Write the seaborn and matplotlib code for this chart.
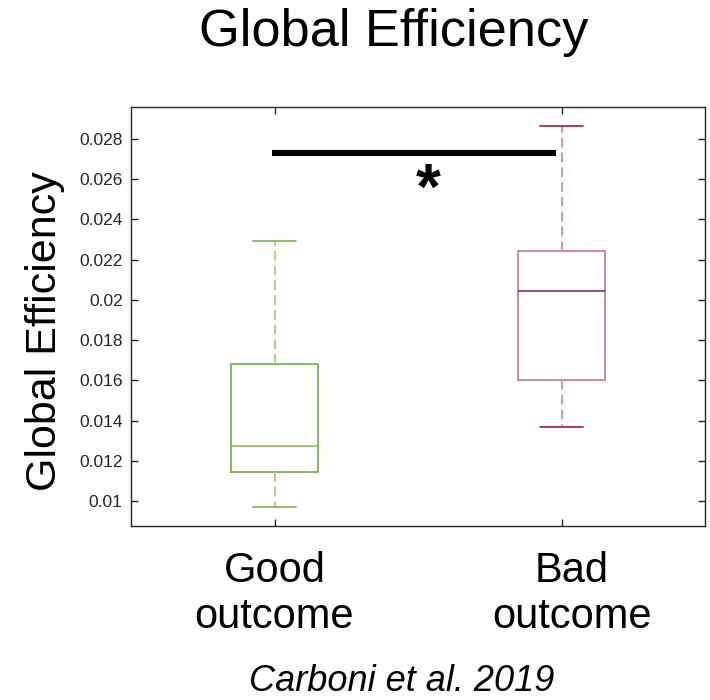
import numpy as np
import pandas as pd
import matplotlib
matplotlib.use("Agg")
import matplotlib.pyplot as plt
import matplotlib.transforms as mtransforms
import seaborn as sns

# Five-number summaries (min, Q1, median, Q3, max) for each outcome group
groups = ["Good", "Bad"]
tick_labels = ["Good\noutcome", "Bad\noutcome"]
good_values = [0.0097, 0.01147, 0.01275, 0.01680, 0.02295]
bad_values = [0.01370, 0.01604, 0.02043, 0.02242, 0.02863]

y_ticks = [0.010, 0.012, 0.014, 0.016, 0.018, 0.020, 0.022, 0.024, 0.026, 0.028]
y_tick_labels = ["0.01", "0.012", "0.014", "0.016", "0.018", "0.02",
                 "0.022", "0.024", "0.026", "0.028"]
y_limits = (0.00877, 0.02959)

# Significance bracket between the two groups
sig_x = [-0.01, 0.98]
sig_y = 0.0273
star_x, star_y = 0.535, 0.02452

sns.set_style("white")
plt.rcParams["font.family"] = ["Liberation Sans", "DejaVu Sans"]

fig = plt.figure(figsize=(7.1, 7.0), dpi=100)
ax = fig.add_axes([131 / 710, 174 / 700, 574 / 710, 419 / 700])

styles = {
    "Good": dict(box="#7ab648", median="#7ab648", whisker="#a8d382", cap="#86bd55"),
    "Bad": dict(box="#cf7f91", median="#a2183a", whisker="#d894a3", cap="#b02848"),
}

for name, vals in zip(groups, [good_values, bad_values]):
    df = pd.DataFrame({"group": [name] * len(vals), "value": vals})
    st = styles[name]
    sns.boxplot(
        data=df, x="group", y="value", order=groups, ax=ax,
        fill=False, width=0.3, whis=(0, 100), saturation=1,
        color=st["box"], linecolor=st["box"], linewidth=1.2,
        showfliers=False,
        boxprops=dict(color=st["box"], linewidth=1.3),
        medianprops=dict(color=st["median"], linewidth=1.1),
        whiskerprops=dict(color=st["whisker"], linewidth=1.4,
                          linestyle=(0, (5, 2.6))),
        capprops=dict(color=st["cap"], linewidth=1.3),
    )

# Significance bar and marker
ax.plot(sig_x, [sig_y, sig_y], color="black", linewidth=4.4,
        solid_capstyle="butt", zorder=5)
ax.text(star_x, star_y, "*", ha="center", va="baseline", fontsize=46,
        fontweight="bold", color="black")

ax.set_xlim(-0.5, 1.5)
ax.set_ylim(*y_limits)
ax.set_yticks(y_ticks)
ax.set_yticklabels(y_tick_labels)
ax.set_xticks([0, 1])
ax.set_xticklabels(tick_labels, fontsize=30, color="black", linespacing=1.2)
ax.set_xlabel("")
ax.set_ylabel("")

ax.tick_params(axis="y", which="both", direction="in", length=5, width=1,
               left=True, right=True, labelsize=12.5, labelcolor="#262626",
               color="#262626", pad=6)
ax.tick_params(axis="x", which="both", direction="in", length=5, width=1,
               bottom=True, top=True, color="#262626", pad=18)

# Nudge the second category label slightly to the right
offset = mtransforms.ScaledTranslation(10 / 100, 0, fig.dpi_scale_trans)
lbl = ax.get_xticklabels()[1]
lbl.set_transform(lbl.get_transform() + offset)

for sp in ax.spines.values():
    sp.set_visible(True)
    sp.set_color("#262626")
    sp.set_linewidth(1.0)

fig.text(393.5 / 710, 1 - 46 / 700, "Global Efficiency", ha="center",
         va="baseline", fontsize=37.7, color="black")
fig.text(45 / 710, 1 - 331.5 / 700, "Global Efficiency", ha="center",
         va="center", rotation=90, fontsize=31, color="black")
fig.text(402 / 710, 1 / 700, "Carboni et al. 2019", ha="center",
         va="bottom", fontsize=26, style="italic", color="black")

fig.savefig("out.png", dpi=100, facecolor="white")
